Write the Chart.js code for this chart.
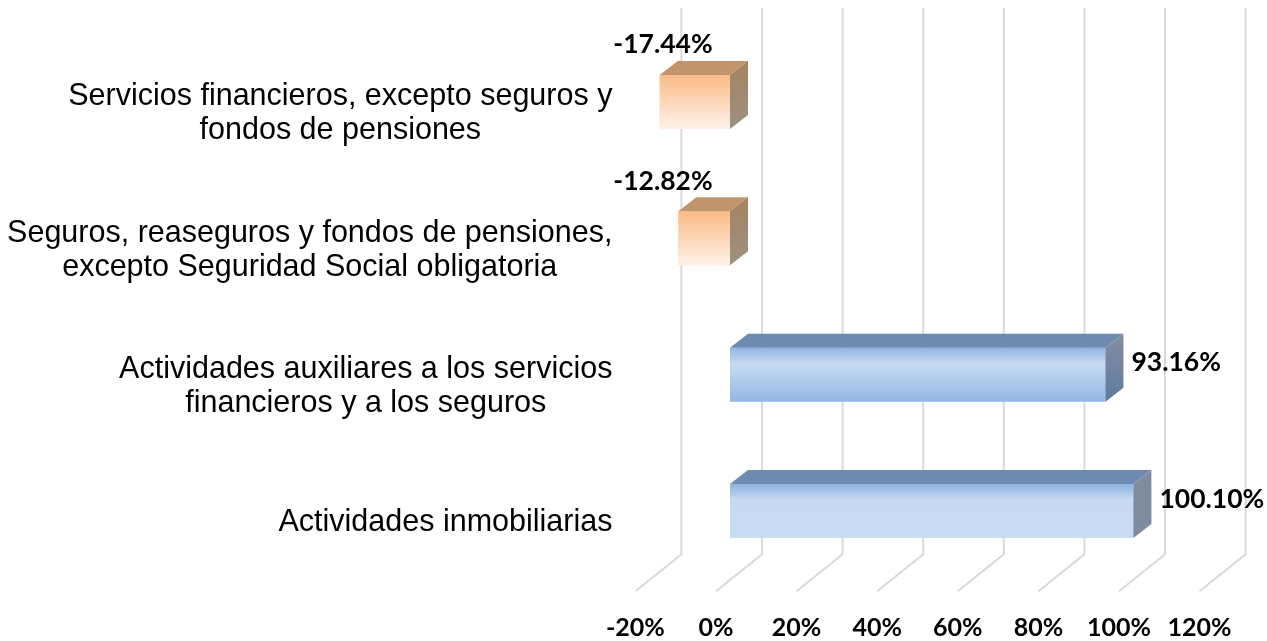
<!DOCTYPE html>
<html>
<head>
<meta charset="utf-8">
<script src="https://cdn.jsdelivr.net/npm/chart.js@4.4.1/dist/chart.umd.min.js"></script>
<style>
  html, body { margin: 0; padding: 0; background: #ffffff; }
  #wrap { width: 1267px; height: 641px; position: relative; }
</style>
</head>
<body>
<div id="wrap"><canvas id="c"></canvas></div>
<script>
// ---- data ----
const categories = [
  ['Servicios financieros, excepto seguros y', 'fondos de pensiones'],
  ['Seguros, reaseguros y fondos de pensiones,', 'excepto Seguridad Social obligatoria'],
  ['Actividades auxiliares a los servicios', 'financieros y a los seguros'],
  ['Actividades inmobiliarias']
];
const values = [-17.44, -12.82, 93.16, 100.10];
const tickValues = [-20, 0, 20, 40, 60, 80, 100, 120];

// ---- styles ----
const frontStops = [
  [[0, '#fbbb86'], [1, '#fff2ea']],
  [[0, '#fbbb86'], [1, '#fff2ea']],
  [[0, '#8fb3e2'], [0.3, '#c7daf2'], [1, '#93b7e4']],
  [[0, '#8db2e2'], [0.28, '#c6d9f1'], [1, '#c9dcf3']]
];
const topColors = ['#c1946c', '#c1946c', '#6d8bb0', '#6d8bb0'];
const sideStops = [
  [[0, '#a8825f'], [1, '#9b9183']],
  [[0, '#a8825f'], [1, '#9b9183']],
  [[0, '#838ea3'], [1, '#5e7a9f']],
  [[0, '#7f8da3'], [1, '#7e8ca2']]
];
const DEPTH_X = 18, DEPTH_Y = -14;
const WALL_X = 32, FLOOR_X = -46, FLOOR_Y = 37;
const GRID_COLOR = '#d9d9d9';

function grad(ctx, x0, y0, x1, y1, stops) {
  const g = ctx.createLinearGradient(x0, y0, x1, y1);
  stops.forEach(s => g.addColorStop(s[0], s[1]));
  return g;
}

const wallPlugin = {
  id: 'wall',
  beforeDatasetsDraw(chart) {
    const ctx = chart.ctx, xs = chart.scales.x, area = chart.chartArea;
    const top = area.top - 26, bottom = area.bottom - 25;
    ctx.save();
    ctx.strokeStyle = GRID_COLOR;
    ctx.lineWidth = 2;
    tickValues.forEach(v => {
      const x = xs.getPixelForValue(v) + WALL_X;
      ctx.beginPath();
      ctx.moveTo(x, top);
      ctx.lineTo(x, bottom);
      ctx.lineTo(x + FLOOR_X, bottom + FLOOR_Y);
      ctx.stroke();
    });
    ctx.restore();
  }
};

const boxPlugin = {
  id: 'box3d',
  afterDatasetsDraw(chart) {
    const ctx = chart.ctx;
    const meta = chart.getDatasetMeta(0);
    const ys = chart.scales.y;
    ctx.save();
    meta.data.forEach((el, i) => {
      const p = el.getProps(['x', 'y', 'base', 'height'], true);
      const left = Math.min(p.x, p.base), right = Math.max(p.x, p.base);
      const top = p.y - p.height / 2, bottom = p.y + p.height / 2;
      // front face
      ctx.fillStyle = grad(ctx, 0, top, 0, bottom, frontStops[i]);
      ctx.fillRect(left, top, right - left, bottom - top);
      // top face
      ctx.fillStyle = topColors[i];
      ctx.beginPath();
      ctx.moveTo(left, top);
      ctx.lineTo(left + DEPTH_X, top + DEPTH_Y);
      ctx.lineTo(right + DEPTH_X, top + DEPTH_Y);
      ctx.lineTo(right, top);
      ctx.closePath();
      ctx.fill();
      // side face
      ctx.fillStyle = grad(ctx, 0, top + DEPTH_Y, 0, bottom, sideStops[i]);
      ctx.beginPath();
      ctx.moveTo(right, top);
      ctx.lineTo(right + DEPTH_X, top + DEPTH_Y);
      ctx.lineTo(right + DEPTH_X, bottom + DEPTH_Y);
      ctx.lineTo(right, bottom);
      ctx.closePath();
      ctx.fill();

      // value label
      const v = values[i];
      const txt = v.toFixed(2) + '%';
      ctx.fillStyle = '#000000';
      ctx.font = 'bold 26.5px Lato, "Open Sans", sans-serif';
      ctx.textBaseline = 'middle';
      if (v < 0) {
        ctx.textAlign = 'center';
        ctx.fillText(txt, p.base - 67, p.y - 57);
      } else {
        ctx.textAlign = 'left';
        ctx.fillText(txt, right + DEPTH_X + 8, p.y - 12);
      }
    });

    // category labels
    ctx.font = '30.5px "Liberation Sans", Arial, sans-serif';
    ctx.fillStyle = '#000000';
    ctx.textAlign = 'center';
    ctx.textBaseline = 'middle';
    const blockRight = chart.chartArea.left - 37;
    const lineH = 34;
    categories.forEach((lines, i) => {
      const yc = ys.getPixelForValue(i) + 12;
      const w = Math.max(...lines.map(l => ctx.measureText(l).width));
      const cx = blockRight - w / 2;
      const y0 = yc - (lines.length - 1) * lineH / 2;
      lines.forEach((l, k) => ctx.fillText(l, cx, y0 + k * lineH));
    });
    ctx.restore();
  }
};

new Chart(document.getElementById('c'), {
  type: 'bar',
  data: {
    labels: categories.map(c => c.join(' ')),
    datasets: [{
      data: values,
      backgroundColor: values.map(v => v < 0 ? '#fcd5b5' : '#c6d9f1'),
      borderWidth: 0,
      categoryPercentage: 1,
      barPercentage: 0.396
    }]
  },
  options: {
    indexAxis: 'y',
    responsive: true,
    maintainAspectRatio: false,
    animation: false,
    events: [],
    layout: { padding: { left: 649.4, right: 53.4, top: 33.75, bottom: 0 } },
    plugins: { legend: { display: false }, title: { display: false }, tooltip: { enabled: false } },
    scales: {
      x: {
        type: 'linear',
        min: -20,
        max: 120,
        afterBuildTicks: s => { s.ticks = tickValues.map(v => ({ value: v })); },
        afterFit: s => { s.height = 61.75; s.paddingLeft = 0; s.paddingRight = 0; },
        grid: { display: false, drawTicks: false },
        border: { display: false },
        ticks: {
          padding: 33.75,
          labelOffset: -14,
          maxRotation: 0,
          autoSkip: false,
          color: '#000000',
          font: { family: 'Lato, "Open Sans", sans-serif', size: 25, weight: 'bold' },
          callback: v => v + '%'
        }
      },
      y: {
        type: 'category',
        display: false
      }
    }
  },
  plugins: [wallPlugin, boxPlugin]
});
</script>
</body>
</html>
